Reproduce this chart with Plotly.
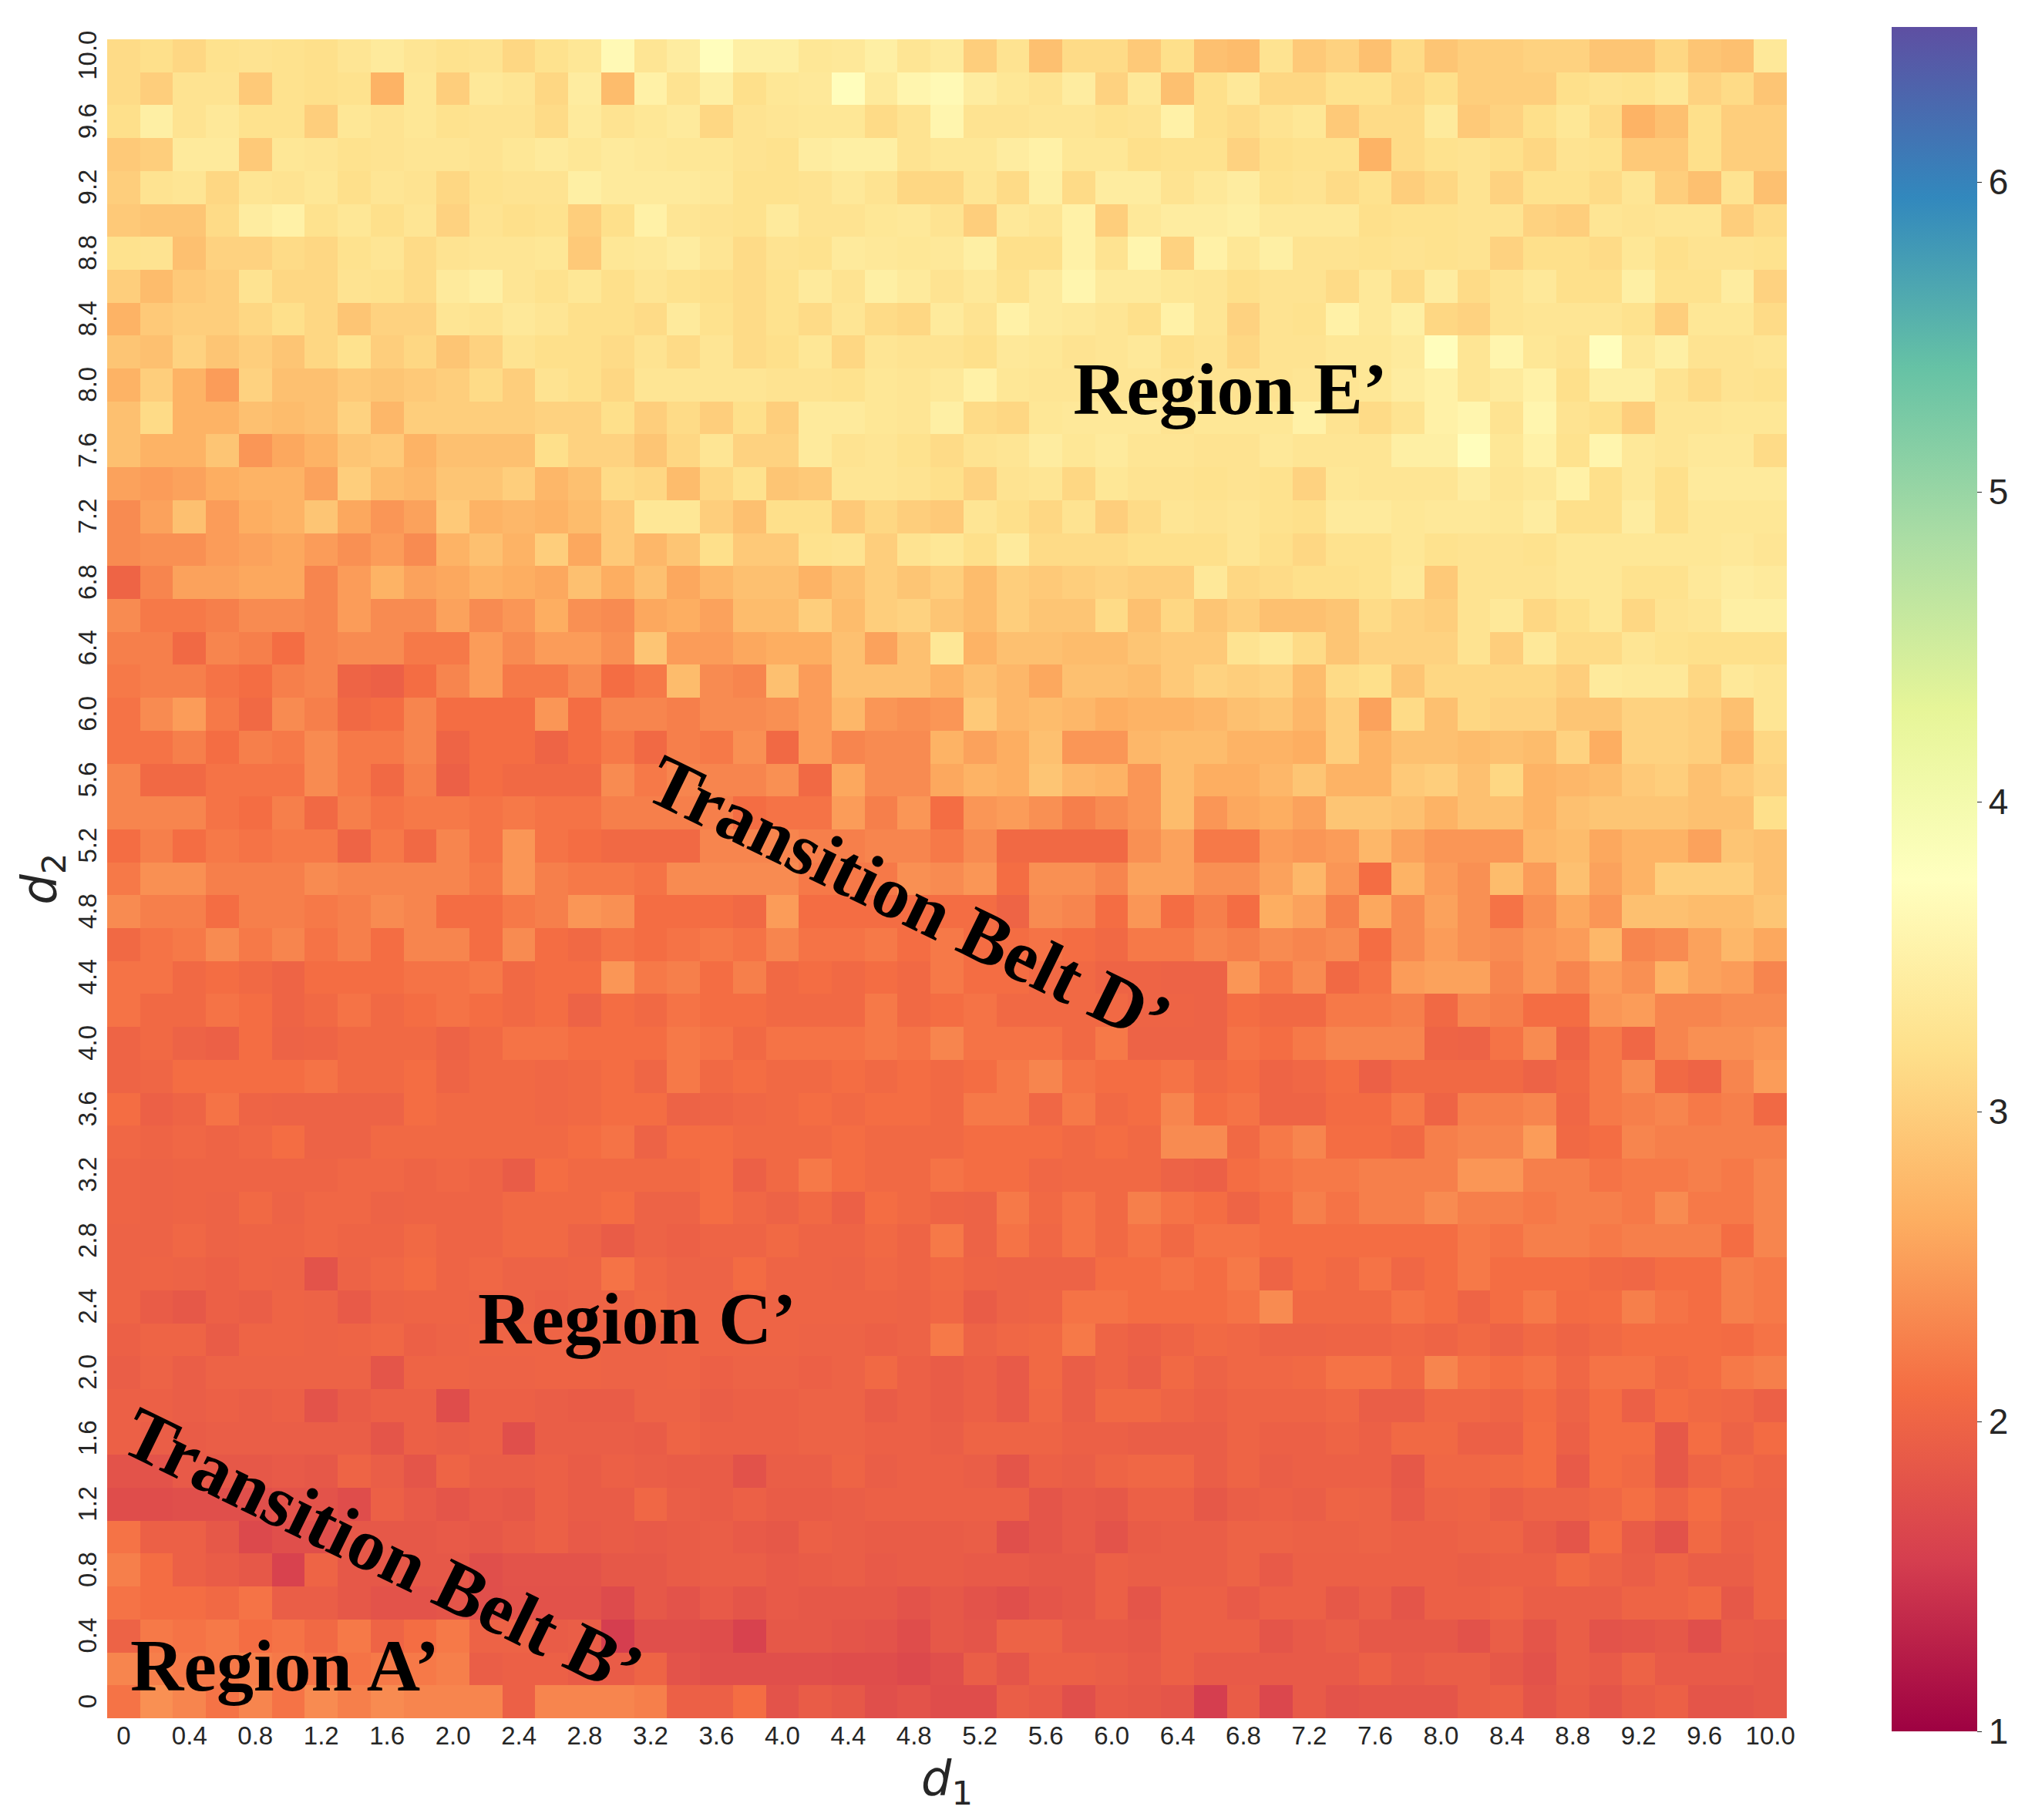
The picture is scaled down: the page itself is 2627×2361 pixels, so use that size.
import numpy as np
import plotly.graph_objects as go

d1_values = [round(i * 0.2, 1) for i in range(51)]
d2_values = [round(10 - i * 0.2, 1) for i in range(51)]
tick_vals = [round(i * 0.4, 1) for i in range(26)]
tick_text = ["0"] + [f"{v:.1f}" for v in tick_vals[1:]]
cbar_ticks = [1, 2, 3, 4, 5, 6]

spectral = ["#9e0142", "#d53e4f", "#f46d43", "#fdae61", "#fee08b", "#ffffbf",
            "#e6f598", "#abdda4", "#66c2a5", "#3288bd", "#5e4fa2"]

# my colour readings of the palest cells ran a little high against the colour bar
read_scale = [1.0, 3.2, 3.5, 3.65, 3.8]
true_scale = [1.0, 3.2, 3.38, 3.5, 3.72]

# columns d1 = 0 .. 5.0, rows from d2 = 10.0 down to 0
left_cols = [
[3.15,3.2,3.1,3.25,3.3,3.25,3.2,3.35,3.5,3.35,3.25,3.3,3.1,3.25,3.4,3.75,3.35,3.55,3.8,3.6,3.6,3.4,3.45,3.6,3.35,3.5],
[3.15,3.0,3.3,3.3,2.95,3.25,3.2,3.25,2.7,3.4,3.0,3.45,3.35,3.1,3.55,2.8,3.65,3.3,3.6,3.2,3.4,3.45,3.8,3.5,3.7,3.75],
[3.2,3.6,3.3,3.45,3.25,3.25,3.0,3.4,3.3,3.4,3.25,3.3,3.3,3.15,3.5,3.3,3.4,3.5,3.1,3.3,3.35,3.4,3.4,3.15,3.3,3.7],
[2.95,3.0,3.5,3.5,2.95,3.4,3.35,3.25,3.3,3.35,3.35,3.3,3.4,3.5,3.4,3.5,3.45,3.4,3.4,3.3,3.25,3.55,3.6,3.6,3.3,3.4],
[3.0,3.3,3.35,3.1,3.35,3.3,3.4,3.2,3.35,3.3,3.1,3.25,3.3,3.3,3.6,3.5,3.5,3.5,3.45,3.25,3.25,3.3,3.45,3.3,3.1,3.1],
[2.95,2.9,2.9,3.15,3.55,3.65,3.25,3.4,3.2,3.35,3.05,3.3,3.2,3.25,3.0,3.2,3.65,3.35,3.3,3.25,3.5,3.3,3.3,3.4,3.45,3.3],
[3.25,3.3,2.85,3.05,3.05,3.15,3.1,3.25,3.35,3.15,3.3,3.35,3.35,3.4,2.95,3.4,3.45,3.55,3.35,3.15,3.3,3.25,3.5,3.45,3.4,3.45],
[3.0,2.8,2.95,3.0,3.3,3.1,3.1,3.3,3.25,3.15,3.5,3.6,3.35,3.25,3.4,3.2,3.35,3.25,3.2,3.15,3.25,3.5,3.3,3.6,3.5,3.3],
[2.7,2.95,3.0,3.0,3.1,3.2,3.1,2.9,3.05,3.05,3.35,3.3,3.45,3.35,3.2,3.2,3.15,3.5,3.25,3.15,3.25,3.15,3.35,3.15,3.1,3.5],
[2.9,2.85,3.05,2.9,3.0,2.9,3.1,3.25,3.0,3.1,2.9,3.05,3.3,3.2,3.2,3.15,3.3,3.15,3.35,3.15,3.2,3.4,3.1,3.35,3.3,3.3],
[2.7,3.0,2.7,2.5,3.05,2.85,2.85,2.95,2.9,2.95,3.0,3.15,3.0,3.3,3.2,3.1,3.35,3.35,3.35,3.35,3.3,3.3,3.25,3.4,3.35,3.45],
[2.85,3.15,2.7,2.7,2.85,2.8,2.85,3.05,2.75,3.0,3.0,3.0,3.0,3.05,3.05,3.2,3.0,3.15,3.0,3.2,3.0,3.5,3.5,3.4,3.35,3.6],
[2.85,2.7,2.7,2.9,2.45,2.6,2.7,2.9,2.95,2.7,2.85,2.85,2.85,3.2,3.05,3.05,2.9,3.1,3.35,3.05,3.05,3.5,3.3,3.35,3.25,3.15],
[2.55,2.5,2.55,2.65,2.7,2.7,2.55,3.0,2.8,2.75,2.9,2.9,3.0,2.75,2.85,3.15,3.1,2.8,3.1,3.25,2.9,2.95,3.35,3.35,3.3,3.2],
[2.35,2.55,2.85,2.5,2.65,2.7,2.9,2.6,2.45,2.55,2.95,2.7,2.75,2.7,2.8,2.95,3.4,3.4,3.0,2.85,3.2,3.2,2.95,3.1,3.0,2.95],
[2.35,2.4,2.4,2.5,2.55,2.6,2.5,2.4,2.5,2.35,2.7,2.85,2.7,3.0,2.6,2.95,2.75,2.9,3.2,2.95,2.95,3.25,3.3,3.0,3.3,3.4],
[2.0,2.3,2.55,2.55,2.6,2.6,2.3,2.5,2.7,2.55,2.6,2.7,2.65,2.6,2.85,2.65,2.85,2.6,2.75,2.85,2.85,2.7,2.85,3.0,2.9,3.0],
[2.35,2.2,2.2,2.25,2.35,2.35,2.3,2.5,2.35,2.35,2.55,2.35,2.45,2.65,2.4,2.35,2.6,2.65,2.55,2.8,2.8,3.0,2.8,3.0,3.05,2.9],
[2.25,2.25,2.05,2.3,2.25,2.1,2.3,2.35,2.35,2.2,2.2,2.5,2.35,2.5,2.5,2.4,2.9,2.5,2.5,2.6,2.65,2.65,2.85,2.55,2.85,3.4],
[2.2,2.25,2.25,2.15,2.1,2.25,2.3,2.0,1.95,2.1,2.3,2.5,2.2,2.2,2.35,2.1,2.2,2.8,2.35,2.3,2.85,2.5,2.85,2.85,2.85,2.7],
[2.15,2.35,2.5,2.2,2.05,2.35,2.25,2.05,2.1,2.3,2.1,2.1,2.1,2.45,2.1,2.3,2.3,2.25,2.35,2.35,2.4,2.5,2.75,2.45,2.4,2.45],
[2.15,2.15,2.25,2.1,2.25,2.2,2.35,2.2,2.2,2.3,2.0,2.1,2.1,2.0,2.1,2.2,2.05,2.25,2.2,2.4,2.05,2.5,2.3,2.35,2.35,2.7],
[2.3,2.05,2.05,2.15,2.15,2.15,2.35,2.2,2.05,2.25,1.95,2.1,2.05,2.05,2.05,2.35,2.2,2.3,2.3,2.3,2.4,2.05,2.6,2.35,2.35,2.6],
[2.3,2.3,2.3,2.15,2.1,2.25,2.05,2.25,2.15,2.2,2.2,2.15,2.2,2.15,2.15,2.25,2.25,2.25,2.25,2.1,2.15,2.15,2.5,2.25,2.45,2.1],
[2.1,2.25,2.1,2.2,2.15,2.2,2.2,2.0,2.2,2.05,2.3,2.15,2.45,2.15,2.1,2.05,2.05,2.05,2.3,2.3,2.3,2.25,2.25,2.3,2.3,2.2],
[2.2,2.4,2.4,2.25,2.25,2.25,2.35,2.3,2.3,2.3,2.3,2.2,2.45,2.25,2.2,2.2,2.15,2.35,2.35,2.35,2.35,2.2,2.2,2.2,2.4,2.35],
[2.35,2.25,2.25,2.1,2.25,2.25,2.2,2.25,2.35,2.3,2.1,2.1,2.2,2.25,2.45,2.4,2.1,2.1,2.1,2.05,2.5,2.1,2.1,2.1,2.1,2.1],
[2.05,2.15,2.2,2.35,2.2,2.3,2.15,2.25,2.1,2.3,2.3,2.1,2.35,2.1,2.05,2.15,2.1,2.15,2.2,2.15,2.3,2.15,2.15,2.2,2.1,2.2],
[2.15,2.15,2.05,2.1,2.05,2.0,2.1,2.1,2.1,2.15,2.15,2.2,2.05,2.1,2.1,2.45,2.2,2.25,2.1,2.25,2.05,2.1,2.05,2.1,2.05,2.2],
[2.15,2.05,2.05,2.15,2.1,2.0,2.05,2.15,2.05,2.1,2.15,2.1,2.05,2.1,1.98,2.1,2.05,2.15,2.1,2.1,2.05,2.05,2.05,2.2,2.05,2.1],
[2.0,2.05,1.98,1.95,2.1,1.98,2.0,2.05,2.05,2.05,1.98,2.05,2.15,2.15,2.1,2.1,2.1,2.2,2.15,2.05,2.15,2.15,2.15,2.2,2.15,2.3],
[2.0,2.02,2.1,2.1,2.1,2.1,2.15,2.05,2.05,2.1,2.0,2.05,2.05,2.03,2.05,2.1,2.02,2.2,2.05,2.1,2.05,2.05,2.1,2.05,2.1,2.05],
[2.1,1.95,2.0,2.15,2.0,1.98,1.98,1.98,1.98,2.1,2.05,2.05,2.05,2.03,2.05,2.1,2.1,1.98,2.0,2.03,2.05,2.1,2.05,2.1,2.1,2.05],
[2.03,2.0,2.03,2.0,2.03,2.1,1.98,1.98,2.05,2.05,2.05,2.05,2.05,2.05,2.1,2.15,1.98,2.1,2.1,2.05,2.05,2.05,2.1,2.05,2.05,2.05],
[2.0,1.98,2.0,2.0,2.0,2.0,2.0,2.03,2.03,2.0,2.03,2.0,1.9,2.1,2.05,2.05,2.05,2.05,2.1,1.95,2.05,2.2,2.1,2.05,2.05,2.15],
[2.0,1.98,2.0,1.98,2.05,1.98,2.03,2.03,1.98,2.0,2.0,2.0,2.05,2.05,2.05,2.1,1.98,1.98,2.1,2.03,1.98,2.05,1.95,2.1,2.05,2.0],
[1.98,1.98,2.03,1.98,2.0,2.0,2.03,2.0,2.0,2.05,2.0,2.0,2.05,2.05,1.98,1.9,1.98,1.95,2.0,2.0,2.05,2.0,2.0,2.05,2.0,2.2],
[1.98,2.0,1.98,1.95,2.0,1.98,1.8,1.98,2.03,2.08,2.0,2.03,1.98,1.98,2.0,2.15,2.03,1.98,1.98,2.08,2.0,2.0,1.98,2.03,2.0,2.05],
[2.0,1.9,1.85,1.95,1.92,2.0,1.98,1.88,1.98,2.0,2.0,1.98,1.98,1.95,1.98,2.0,2.05,2.0,2.0,2.0,2.0,2.0,2.0,2.0,1.98,2.03],
[1.95,2.0,2.0,1.9,2.0,2.0,1.98,2.0,2.03,1.95,1.98,2.0,2.0,2.0,2.0,1.98,1.98,2.0,2.0,2.0,2.0,1.98,1.98,1.95,1.98,2.2],
[1.92,1.98,1.92,1.98,1.98,1.98,1.98,1.98,1.82,2.0,2.0,1.98,1.98,2.0,2.0,1.98,1.98,2.0,1.95,1.98,1.98,1.95,1.98,2.05,1.95,1.9],
[1.95,1.95,1.92,1.95,1.92,1.95,1.8,1.9,1.95,1.95,1.72,1.95,1.95,1.92,1.9,1.9,1.98,1.98,1.92,1.95,1.95,1.98,1.98,1.9,1.95,1.9],
[1.95,1.92,1.9,1.92,1.92,1.92,1.92,1.92,1.82,1.95,1.92,1.95,1.75,1.92,1.92,1.92,1.9,2.0,1.95,1.95,1.95,1.98,1.98,1.95,1.95,1.92],
[1.8,1.8,1.88,1.85,1.85,1.88,1.85,2.0,1.92,1.82,2.0,1.92,1.92,1.95,1.9,1.95,1.92,1.9,1.9,1.78,1.92,1.92,2.0,1.92,1.95,1.95],
[1.72,1.72,1.75,1.75,1.75,1.8,1.8,1.72,1.95,1.88,1.82,1.88,1.85,1.95,1.9,1.9,2.03,1.92,1.9,1.95,1.9,1.9,1.92,1.95,1.95,1.95],
[2.15,1.95,1.95,1.85,1.68,1.75,1.75,1.85,1.85,1.85,1.88,1.85,1.9,1.95,1.88,1.9,1.88,1.9,1.92,1.88,1.85,1.95,1.92,1.9,1.9,1.9],
[2.25,2.1,1.95,1.9,1.85,1.6,2.0,1.85,1.85,1.85,1.85,1.75,1.8,1.8,1.8,1.85,1.85,1.9,1.92,1.92,1.88,1.9,1.92,1.88,1.9,1.9],
[2.15,2.1,2.1,2.05,2.15,1.92,1.92,1.85,1.8,1.8,1.82,1.75,1.78,1.78,1.78,1.7,1.85,1.8,1.88,1.82,1.88,1.85,1.85,1.85,1.8,1.85],
[1.98,2.2,2.15,2.2,2.1,2.15,2.05,2.2,2.0,2.1,2.2,1.98,1.98,1.9,1.92,1.55,1.75,1.75,1.72,1.6,1.85,1.85,1.82,1.8,1.72,1.85],
[2.3,2.25,2.2,2.2,2.25,2.2,2.15,2.15,2.2,2.2,2.25,1.92,1.95,1.95,1.9,1.9,2.0,1.8,1.75,1.75,1.75,1.75,1.72,1.72,1.68,1.75],
[2.15,2.4,2.3,2.15,2.3,2.15,2.35,2.25,2.35,2.3,2.3,2.3,1.95,2.3,2.3,2.3,2.25,1.95,1.95,2.1,1.8,1.9,1.85,1.75,1.8,1.72],
]
# columns d1 = 5.2 .. 10.0, same row order
right_cols = [
[3.0,3.3,2.85,3.15,3.15,2.95,3.2,2.85,2.8,3.3,2.95,3.05,2.85,3.15,2.9,3.0,3.0,3.05,3.05,2.9,2.9,3.1,2.9,2.85,3.45],
[3.55,3.4,3.3,3.55,3.05,3.45,2.85,3.2,3.45,3.1,3.1,3.25,3.25,3.1,3.2,3.0,3.0,3.0,3.2,3.3,3.25,3.4,3.05,3.15,2.9],
[3.3,3.3,3.35,3.35,3.25,3.3,3.65,3.2,3.15,3.3,3.4,2.95,3.15,3.15,3.5,2.95,3.05,3.2,3.4,3.15,2.7,2.85,3.2,3.0,3.0],
[3.4,3.55,3.65,3.4,3.4,3.2,3.25,3.25,3.05,3.2,3.25,3.25,2.7,3.15,3.25,3.3,3.2,3.1,3.3,3.25,2.95,2.95,3.2,3.0,3.0],
[3.35,3.15,3.6,3.15,3.55,3.55,3.3,3.45,3.55,3.25,3.3,3.15,3.25,3.0,3.1,3.3,3.05,3.25,3.25,3.15,3.35,3.0,2.85,3.3,2.85],
[3.0,3.45,3.35,3.65,3.0,3.45,3.55,3.55,3.6,3.45,3.45,3.45,3.2,3.25,3.25,3.3,3.3,3.05,3.0,3.35,3.3,3.35,3.35,3.0,3.15],
[3.6,3.2,3.2,3.65,3.3,3.7,3.05,3.65,3.4,3.6,3.3,3.3,3.25,3.3,3.25,3.3,3.05,3.2,3.2,3.15,3.4,3.2,3.3,3.3,3.25],
[3.45,3.25,3.5,3.7,3.5,3.5,3.4,3.35,3.2,3.3,3.3,3.15,3.45,3.15,3.55,3.15,3.3,3.45,3.2,3.2,3.6,3.25,3.25,3.55,3.05],
[3.3,3.65,3.5,3.45,3.35,3.2,3.65,3.35,3.05,3.3,3.25,3.65,3.45,3.6,3.1,3.05,3.3,3.35,3.35,3.35,3.25,3.0,3.4,3.4,3.15],
[3.2,3.45,3.4,3.3,3.35,3.45,3.2,3.3,3.1,3.3,3.3,3.4,3.4,3.5,3.8,3.35,3.7,3.4,3.3,3.8,3.45,3.6,3.3,3.3,3.35],
[3.65,3.4,3.35,3.35,3.35,3.35,3.3,3.3,3.3,3.3,3.35,3.35,3.4,3.55,3.65,3.35,3.5,3.65,3.2,3.6,3.6,3.3,3.15,3.3,3.25],
[3.15,3.1,3.4,3.45,3.45,3.45,3.3,3.4,3.4,3.4,3.65,3.3,3.15,3.3,3.65,3.7,3.3,3.7,3.3,3.2,3.0,3.35,3.35,3.4,3.4],
[3.3,3.35,3.55,3.4,3.5,3.35,3.35,3.3,3.3,3.45,3.35,3.35,3.35,3.6,3.6,3.8,3.4,3.65,3.25,3.7,3.45,3.35,3.45,3.45,3.15],
[3.05,3.3,3.35,3.1,3.4,3.3,3.3,3.25,3.3,3.25,3.05,3.4,3.35,3.35,3.35,3.55,3.35,3.45,3.65,3.2,3.45,3.2,3.5,3.5,3.5],
[3.35,3.2,3.1,3.3,3.0,3.15,3.35,3.3,3.35,3.25,3.2,3.5,3.5,3.4,3.45,3.45,3.4,3.55,3.2,3.2,3.55,3.2,3.4,3.4,3.4],
[3.2,3.5,3.15,3.15,3.15,3.2,3.2,3.2,3.35,3.2,3.1,3.25,3.25,3.4,3.25,3.3,3.3,3.25,3.4,3.4,3.4,3.4,3.4,3.45,3.35],
[2.8,3.0,2.95,3.0,3.05,3.0,3.0,3.45,3.1,3.15,3.2,3.2,3.25,3.45,2.95,3.3,3.3,3.3,3.4,3.4,3.25,3.25,3.45,3.55,3.5],
[2.8,3.0,2.9,2.9,3.15,2.85,3.1,2.9,3.0,2.85,2.85,2.9,3.15,3.05,3.0,3.3,3.45,3.1,3.2,3.4,3.1,3.3,3.35,3.6,3.6],
[2.7,2.85,2.85,2.8,2.8,2.9,2.95,2.95,3.3,3.45,3.15,2.9,3.05,3.05,3.05,3.3,3.0,3.45,3.15,3.15,3.35,3.25,3.2,3.2,3.2],
[2.85,2.75,2.6,2.85,2.85,2.8,2.95,3.05,3.0,3.05,2.8,3.15,3.2,2.9,3.1,3.1,3.1,3.1,3.0,3.5,3.45,3.45,3.1,3.45,3.35],
[2.95,2.75,2.8,2.75,2.65,2.7,2.7,2.75,2.85,2.9,2.75,3.0,2.55,3.15,2.85,3.1,3.05,3.05,2.9,2.9,3.05,3.05,3.0,2.85,3.35],
[2.55,2.65,2.85,2.45,2.45,2.75,2.8,2.8,2.7,2.7,2.65,3.0,2.7,2.85,2.85,2.8,2.85,2.8,3.05,2.65,3.05,3.05,3.0,2.75,3.1],
[2.7,2.65,2.9,2.75,2.7,2.45,2.8,2.65,2.65,2.75,2.9,2.7,2.7,2.95,3.0,2.85,3.1,2.7,2.75,2.8,2.95,3.0,2.85,2.95,3.05],
[2.45,2.5,2.4,2.25,2.35,2.45,2.8,2.45,2.6,2.65,2.55,2.9,2.9,2.85,2.7,2.85,2.85,2.7,2.85,2.9,2.9,2.9,2.85,2.85,3.2],
[2.35,2.05,2.05,2.05,2.05,2.4,2.55,2.2,2.2,2.5,2.45,2.5,2.75,2.55,2.45,2.45,2.45,2.75,2.8,2.6,2.7,2.7,2.55,2.9,2.85],
[2.45,2.1,2.4,2.4,2.3,2.55,2.55,2.4,2.4,2.55,2.75,2.45,2.1,2.7,2.5,2.4,2.8,2.5,2.85,2.55,2.7,3.0,3.0,3.0,2.85],
[2.1,2.0,2.35,2.3,2.1,2.45,2.1,2.25,2.1,2.65,2.55,2.25,2.6,2.35,2.55,2.4,2.15,2.4,2.6,2.45,2.85,2.85,2.8,2.8,2.9],
[2.1,2.1,2.15,2.1,2.05,2.2,2.2,2.3,2.25,2.35,2.3,2.35,2.1,2.35,2.5,2.4,2.35,2.45,2.5,2.75,2.3,2.35,2.55,2.75,2.6],
[2.1,2.1,2.05,2.05,2.0,2.0,1.98,1.98,2.45,2.2,2.35,2.05,2.15,2.5,2.55,2.55,2.3,2.45,2.3,2.5,2.4,2.7,2.55,2.5,2.3],
[2.15,2.05,2.05,2.05,2.05,2.0,2.0,1.98,2.1,2.05,2.05,2.2,2.2,2.25,2.05,2.3,2.25,2.1,2.1,2.45,2.5,2.3,2.3,2.35,2.35],
[2.15,2.15,2.15,2.05,2.2,1.98,1.98,1.98,2.15,2.1,2.2,2.3,2.3,2.3,2.0,1.98,2.15,2.35,2.0,2.2,2.03,2.3,2.4,2.4,2.45],
[2.1,2.2,2.3,2.15,2.1,2.1,2.15,2.05,2.1,2.0,2.03,2.1,1.95,2.05,2.05,2.05,2.05,1.98,2.05,2.2,2.35,2.05,2.0,2.3,2.5],
[2.2,2.2,2.03,2.2,2.05,2.1,2.3,2.1,2.15,2.0,2.0,2.08,2.08,2.2,2.0,2.25,2.25,2.3,2.03,2.2,2.25,2.3,2.2,2.25,2.05],
[2.1,2.1,2.1,2.05,2.1,2.05,2.35,2.35,2.05,2.2,2.3,2.1,2.1,2.05,2.25,2.3,2.3,2.5,2.05,2.1,2.3,2.25,2.25,2.25,2.25],
[2.1,2.1,2.03,2.05,2.05,2.05,1.98,1.95,2.1,2.15,2.2,2.2,2.25,2.25,2.25,2.45,2.45,2.25,2.25,2.15,2.2,2.2,2.25,2.2,2.3],
[1.98,2.2,2.05,2.15,2.05,2.25,2.15,2.1,2.0,2.1,2.25,2.15,2.25,2.25,2.35,2.25,2.25,2.2,2.25,2.25,2.2,2.35,2.2,2.2,2.3],
[1.98,2.15,2.03,2.15,2.05,2.15,2.05,2.15,2.15,2.1,2.1,2.1,2.1,2.1,2.1,2.2,2.15,2.25,2.25,2.2,2.25,2.25,2.25,2.1,2.3],
[2.0,1.98,1.98,1.98,2.1,2.1,2.15,2.1,2.2,2.0,2.1,2.05,2.15,2.03,2.1,2.2,2.1,2.1,2.1,2.05,2.03,2.1,2.1,2.25,2.2],
[1.9,1.98,2.0,2.15,2.15,2.1,2.1,2.1,2.15,2.35,2.05,2.05,2.05,2.15,2.1,2.0,2.1,2.2,2.08,2.1,2.25,2.15,2.1,2.25,2.2],
[1.98,2.03,2.05,2.2,2.0,1.95,2.0,2.05,2.03,1.98,1.98,2.0,2.0,2.03,2.0,2.05,1.98,2.05,2.0,2.05,2.1,2.1,2.1,2.08,2.15],
[1.95,1.88,2.05,1.92,2.0,1.92,2.05,1.98,2.03,2.03,2.05,2.15,2.15,2.05,2.3,2.15,2.1,2.15,2.03,2.15,2.15,2.05,2.1,2.2,2.25],
[1.95,1.88,2.03,1.92,2.05,2.05,2.0,1.95,2.0,2.0,2.0,2.03,1.92,1.92,2.03,2.03,2.0,2.08,1.98,2.1,1.95,2.1,2.05,2.03,1.95],
[2.0,2.0,2.0,1.95,1.95,1.92,1.92,1.92,2.0,1.95,1.95,2.0,1.95,2.05,2.05,1.95,1.95,2.1,1.95,2.1,2.1,1.85,2.1,1.98,2.08],
[1.92,1.82,1.95,1.92,2.0,2.03,2.03,1.92,2.0,1.92,1.95,1.95,1.95,1.85,2.03,2.03,2.05,2.1,1.88,2.1,2.05,1.85,2.0,2.05,2.0],
[1.95,1.95,1.82,1.88,1.85,1.95,1.95,1.85,1.92,1.95,1.92,2.0,1.98,1.88,1.98,2.0,1.92,1.98,1.98,2.03,2.12,2.0,2.1,1.98,1.98],
[1.92,1.75,1.82,1.88,1.8,1.9,1.92,1.92,1.98,1.98,1.96,1.96,1.98,1.95,1.95,1.98,2.0,1.9,1.82,2.1,1.9,1.78,2.05,1.95,2.0],
[1.88,1.88,1.85,1.85,1.95,1.92,1.92,1.92,1.98,1.88,1.95,1.95,1.95,1.95,1.95,1.92,1.95,1.95,2.05,1.98,1.92,2.0,1.92,1.92,2.0],
[1.8,1.75,1.82,1.85,1.95,1.82,1.95,1.95,1.88,1.95,1.95,1.85,1.92,1.82,1.95,1.95,2.0,1.92,1.92,1.92,2.0,2.0,2.05,1.85,2.0],
[1.82,1.98,1.98,1.88,1.88,1.85,1.95,1.95,1.95,1.82,1.88,1.92,1.85,1.85,1.85,1.78,1.92,1.82,1.92,1.8,1.82,1.85,1.75,1.9,1.88],
[1.92,1.82,1.95,1.95,1.92,1.88,1.95,1.88,1.88,1.88,1.88,1.88,1.95,1.88,1.92,1.92,1.85,1.78,1.92,1.88,1.98,1.88,1.88,1.88,1.85],
[1.72,1.92,1.88,1.75,1.88,1.85,1.82,1.55,1.9,1.65,1.88,1.8,1.82,1.82,1.82,1.92,1.95,1.82,1.9,1.82,1.9,1.95,1.82,1.82,1.85],
]

assert len(left_cols) == 51 and len(right_cols) == 51, (len(left_cols), len(right_cols))
for i, (a, b) in enumerate(zip(left_cols, right_cols)):
    assert len(a) == 26 and len(b) == 25, (i, len(a), len(b))
z_values = np.interp(np.array([a + b for a, b in zip(left_cols, right_cols)]),
                     read_scale, true_scale).tolist()

W, H = 2627, 2361
TEXT = "#262626"
fig = go.Figure(go.Heatmap(
    x=d1_values, y=d2_values, z=z_values, zmin=1, zmax=6.5,
    colorscale=[[i / 10, c] for i, c in enumerate(spectral)],
    xgap=0, ygap=0,
    colorbar=dict(
        thicknessmode="pixels", thickness=111, lenmode="pixels", len=2211,
        xref="container", yref="paper",
        x=2454 / W, xanchor="left", y=(2229 - 2246) / 2178, yanchor="bottom",
        xpad=0, ypad=0, outlinewidth=0, borderwidth=0,
        tickmode="array", tickvals=cbar_ticks, ticks="outside", ticklen=6,
        tickwidth=1, tickcolor=TEXT,
        tickfont=dict(family="Liberation Sans", size=46, color=TEXT),
    ),
))


def label(text, x, y, angle=0):
    fig.add_annotation(x=x, y=y, text=text, showarrow=False, textangle=angle,
                       xanchor="center", yanchor="middle",
                       font=dict(family="Liberation Serif", size=96, color="black"))


label("<b>Region E’</b>", 6.72, 7.975)
label("<b>Region C’</b>", 3.12, 2.33)
label("<b>Region A’</b>", 0.98, 0.223)
label("<b>Transition Belt B’</b>", 1.577, 0.916, 26)
label("<b>Transition Belt D’</b>", 4.772, 4.87, 26)

fig.update_layout(
    width=W, height=H, autosize=False,
    margin=dict(l=139, r=W - 2318, t=51, b=H - 2229, autoexpand=False),
    paper_bgcolor="white", plot_bgcolor="white",
    xaxis=dict(
        tickmode="array", tickvals=tick_vals, ticktext=tick_text, tickangle=0,
        ticks="", showgrid=False, zeroline=False, showline=False,
        range=[-0.1, 10.1], ticklabelstandoff=0,
        tickfont=dict(family="Liberation Sans", size=33, color=TEXT),
        title=dict(text="<i>d</i><sub>1</sub>", standoff=10,
                   font=dict(family="DejaVu Sans", size=62, color=TEXT)),
    ),
    yaxis=dict(
        tickmode="array", tickvals=[round(v - 0.02, 2) for v in tick_vals],
        ticktext=tick_text, tickangle=-90,
        ticks="", showgrid=False, zeroline=False, showline=False,
        range=[-0.1, 10.1], ticklabelstandoff=6,
        tickfont=dict(family="Liberation Sans", size=33, color=TEXT),
        title=dict(text="\u00a0<i>d</i><sub>2</sub>", standoff=0,
                   font=dict(family="DejaVu Sans", size=62, color=TEXT)),
    ),
)

fig.write_html("out.html", post_script="document.body.style.margin='0';",
               config={"displayModeBar": False})
